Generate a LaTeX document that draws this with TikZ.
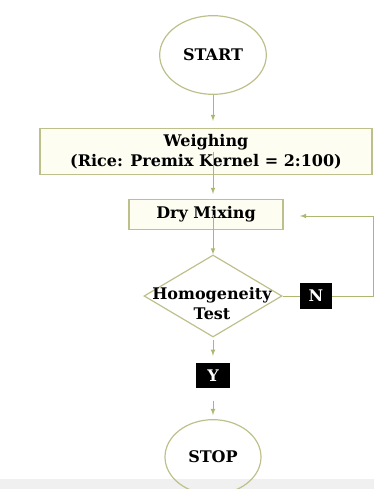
\documentclass[tikz,border=0pt]{standalone}
\usepackage{fontspec}
\setmainfont{DejaVu Serif}
\usetikzlibrary{shapes.geometric}
\definecolor{edgegreen}{RGB}{190,192,140}
\definecolor{arrowgreen}{RGB}{172,184,112}
\definecolor{boxfill}{RGB}{253,253,242}

\begin{document}
\begin{tikzpicture}[x=0.75pt, y=-0.75pt, >=latex, semithick,
  txt/.style={font=\bfseries\fontsize{12}{15}\selectfont, align=center},
  term/.style={ellipse, draw=edgegreen, line width=0.9pt, inner sep=0pt, txt},
  proc/.style={rectangle, draw=edgegreen, fill=boxfill, line width=0.9pt, txt},
  tag/.style={rectangle, fill=black, text=white, inner sep=0pt, txt},
  flow/.style={->, arrowgreen, line width=0.6pt}]
  \useasboundingbox (0,0) rectangle (374,489);
  \fill[gray!12] (0,479) rectangle (374,489);
  % terminals and steps
  \node[term, minimum width=80pt, minimum height=59pt] (start) at (213,55) {START};
  \node[proc, minimum width=249pt, minimum height=35pt] (weigh) at (206,151.5)
    {Weighing\\(Rice: Premix Kernel = 2:100)};
  \node[proc, minimum width=115.5pt, minimum height=22pt] (dry) at (206,214.5) {Dry Mixing};
  \node[diamond, draw=edgegreen, line width=0.9pt, inner sep=0pt,
    minimum width=103.5pt, minimum height=61.5pt] (test) at (213,296) {};
  \node[txt] (testtxt) at (212,304) {Homogeneity\\Test};
  \node[tag, minimum width=24pt, minimum height=20pt] (n) at (316,296) {N};
  \node[tag, minimum width=25pt, minimum height=19pt] (y) at (213,375.5) {Y};
  \node[term, minimum width=72pt, minimum height=56pt] (stop) at (213,457) {STOP};
  \coordinate (loop) at (373,216);
  \coordinate (back) at (300,216);
  % connectors
  \draw[flow, shorten >=5pt] (start) -- (start |- weigh.north);
  \draw[flow, shorten >=4pt] (weigh.center -| start) -- (dry.north -| start);
  \draw[flow] (dry.center -| start) -- (test.north);
  \draw[arrowgreen, line width=0.6pt] (test.east) -- (n.west);
  \draw[flow] (n.east) -| (loop) -- (back);
  \draw[flow, shorten <=2pt, shorten >=5pt] (test.south) -- (y.north);
  \draw[flow, shorten <=9pt, shorten >=3pt] (y.south) -- (stop.north);
\end{tikzpicture}
\end{document}
